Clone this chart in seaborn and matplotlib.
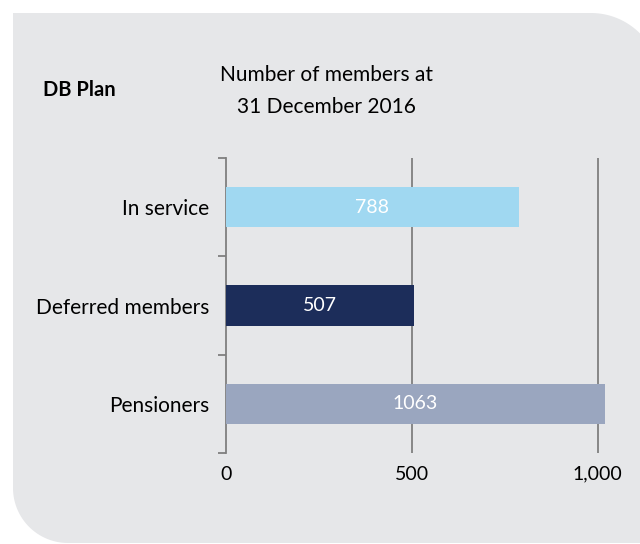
import numpy as np
import pandas as pd
import matplotlib
matplotlib.use("Agg")
import matplotlib.pyplot as plt
from matplotlib.patches import Polygon
from matplotlib.ticker import FuncFormatter
import seaborn as sns

categories = ["In service", "Deferred members", "Pensioners"]
members = [788, 507, 1063]
bar_colors = ["#a0d8f1", "#1c2d5a", "#9aa6bf"]
x_ticks = [0, 500, 1000]

sns.set_style("white")
plt.rcParams["font.family"] = ["Lato", "DejaVu Sans"]
plt.rcParams["text.color"] = "black"
plt.rcParams["xtick.color"] = "black"
plt.rcParams["ytick.color"] = "black"

df = pd.DataFrame({"category": categories, "members": members})

fig = plt.figure(figsize=(6.4, 5.44), dpi=100)
W, H = 640, 544

# rounded grey panel behind the chart (pixel coords, top-left origin)
def arc(cx, cy, r, a0, a1, n=30):
    t = np.radians(np.linspace(a0, a1, n))
    return np.column_stack([cx + r * np.cos(t), cy + r * np.sin(t)])

left, top, bottom, right = 13, 13, 543, 660
r_tr, r_bl = 69, 55
pts = [[left, top]]
pts += list(arc(right - r_tr, top + r_tr, r_tr, -90, 0))
pts += [[right, bottom]]
pts += list(arc(left + r_bl, bottom - r_bl, r_bl, 90, 180))
pts = np.array(pts)
pts[:, 0] /= W
pts[:, 1] = 1 - pts[:, 1] / H
fig.patches.append(Polygon(pts, closed=True, transform=fig.transFigure,
                           facecolor="#e6e7e9", edgecolor="none", zorder=-5))

ax = fig.add_axes([226 / W, 1 - 453 / H, (605 - 226) / W, (453 - 158) / H])
ax.set_zorder(2)
ax.set_facecolor("none")

sns.barplot(data=df, y="category", x="members", hue="category",
            palette=bar_colors, orient="h", width=0.41, legend=False,
            saturation=1, linewidth=0, ax=ax, zorder=3)

xmax = 1020
ax.set_xlim(0, xmax)
ax.set_ylim(2.5, -0.5)

# value labels
for i, v in enumerate(members):
    ax.text(min(v, xmax) / 2, i, str(v), color="white", ha="center",
            va="center", fontsize=14, zorder=4)

# grid
ax.set_xticks(x_ticks)
ax.xaxis.set_major_formatter(FuncFormatter(lambda v, p: f"{int(v):,}"))
for x in x_ticks[1:]:
    ax.axvline(x, color="#7f7f7f", lw=1.3, zorder=1)
ax.tick_params(axis="x", bottom=False, length=0, pad=9, labelsize=14,
               labelcolor="black")

# y ticks at category boundaries, labels in between
ax.set_yticks([-0.5, 0.5, 1.5, 2.5])
ax.set_yticklabels([])
ax.tick_params(axis="y", which="major", left=True, direction="out",
               length=6, width=1.3, color="#7f7f7f")
ax.set_yticks([0, 1, 2], minor=True)
ax.set_yticklabels(categories, minor=True)
ax.tick_params(axis="y", which="minor", left=True, length=0, pad=12,
               labelsize=15, labelcolor="black")
ax.set_ylabel("")
ax.set_xlabel("")

for s in ["top", "right", "bottom"]:
    ax.spines[s].set_visible(False)
ax.spines["left"].set_color("#7f7f7f")
ax.spines["left"].set_linewidth(1.3)

fig.text(43 / W, 1 - 90 / H, "DB Plan", fontsize=14.5, fontweight="bold",
         ha="left", va="center")
fig.text(326 / W, 1 - 91 / H, "Number of members at\n31 December 2016",
         fontsize=15, ha="center", va="center", linespacing=1.75)

fig.savefig("out.png", dpi=100, facecolor="white")
